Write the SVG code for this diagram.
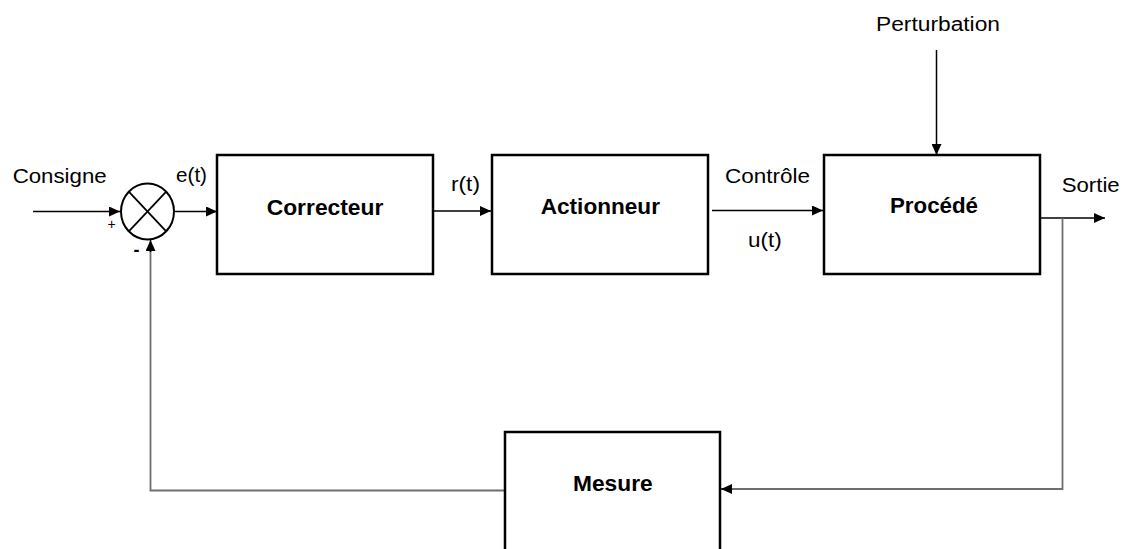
<svg xmlns="http://www.w3.org/2000/svg" width="1126" height="549" viewBox="0 0 1126 549">
<style>
.box{fill:#fff;stroke:#000;stroke-width:2.5}
.lbl{font-family:"Liberation Sans",Arial,sans-serif;font-size:20px;fill:#000}
.blk{font-family:"Liberation Sans",Arial,sans-serif;font-size:22px;font-weight:bold;fill:#000}
.ln{fill:none;stroke:#000;stroke-width:1.5}
.fb{fill:none;stroke:#6e6e6e;stroke-width:1.8}
</style>
<defs>
<marker id="ah" markerUnits="userSpaceOnUse" markerWidth="12" markerHeight="10" refX="11" refY="5" orient="auto">
<path d="M0,0 L11,5 L0,10 Z" fill="#000"/>
</marker>
</defs>
<rect width="1126" height="549" fill="#fff"/>
<g id="connectors">
<line class="ln" x1="33" y1="211.5" x2="120" y2="211.5" marker-end="url(#ah)"/>
<line class="ln" x1="174" y1="211.5" x2="217" y2="211.5" marker-end="url(#ah)"/>
<line class="ln" x1="433" y1="211" x2="491" y2="211" marker-end="url(#ah)"/>
<line class="ln" x1="712" y1="210.5" x2="823" y2="210.5" marker-end="url(#ah)"/>
<line class="ln" x1="936.5" y1="50" x2="936.5" y2="155" marker-end="url(#ah)"/>
<line class="ln" x1="1040" y1="218" x2="1105" y2="218" marker-end="url(#ah)"/>
<polyline class="fb" points="1062.5,218 1062.5,489 730,489"/>
<line class="ln" x1="732" y1="489" x2="721" y2="489" marker-end="url(#ah)"/>
<polyline class="fb" points="505,490.5 150.5,490.5 150.5,250"/>
<line class="ln" x1="150.5" y1="252" x2="150.5" y2="240" marker-end="url(#ah)"/>
</g>
<g id="sum">
<ellipse cx="147.5" cy="211.5" rx="26.5" ry="28" fill="#fff" stroke="#000" stroke-width="2"/>
<line x1="128.8" y1="191.7" x2="166.2" y2="231.3" stroke="#000" stroke-width="1.8"/>
<line x1="166.2" y1="191.7" x2="128.8" y2="231.3" stroke="#000" stroke-width="1.8"/>
<text x="111.5" y="229" font-family="Liberation Sans,Arial,sans-serif" font-size="14" text-anchor="middle">+</text>
<text x="136.5" y="256" font-family="Liberation Sans,Arial,sans-serif" font-size="18" font-weight="bold" text-anchor="middle">-</text>
</g>
<g id="correcteur">
<rect class="box" x="217" y="155" width="216" height="119"/>
<text class="blk" x="266.7" y="215" textLength="116.7" lengthAdjust="spacingAndGlyphs">Correcteur</text>
</g>
<g id="actionneur">
<rect class="box" x="492" y="155" width="216" height="119"/>
<text class="blk" x="540.7" y="214" textLength="119.3" lengthAdjust="spacingAndGlyphs">Actionneur</text>
</g>
<g id="procede">
<rect class="box" x="824" y="155" width="216" height="119"/>
<text class="blk" x="890" y="213" textLength="88" lengthAdjust="spacingAndGlyphs">Procédé</text>
</g>
<g id="mesure">
<rect class="box" x="505" y="432" width="215" height="130"/>
<text class="blk" x="573" y="491" textLength="79.7" lengthAdjust="spacingAndGlyphs">Mesure</text>
</g>
<g id="labels">
<text class="lbl" x="12.7" y="183" textLength="94" lengthAdjust="spacingAndGlyphs">Consigne</text>
<text class="lbl" x="176" y="182" textLength="31" lengthAdjust="spacingAndGlyphs">e(t)</text>
<text class="lbl" x="451" y="191" textLength="29" lengthAdjust="spacingAndGlyphs">r(t)</text>
<text class="lbl" x="725" y="183" textLength="85" lengthAdjust="spacingAndGlyphs">Contrôle</text>
<text class="lbl" x="748" y="247" textLength="33.7" lengthAdjust="spacingAndGlyphs">u(t)</text>
<text class="lbl" x="876" y="30.5" textLength="124" lengthAdjust="spacingAndGlyphs">Perturbation</text>
<text class="lbl" x="1061.7" y="191.5" textLength="58" lengthAdjust="spacingAndGlyphs">Sortie</text>
</g>
</svg>
